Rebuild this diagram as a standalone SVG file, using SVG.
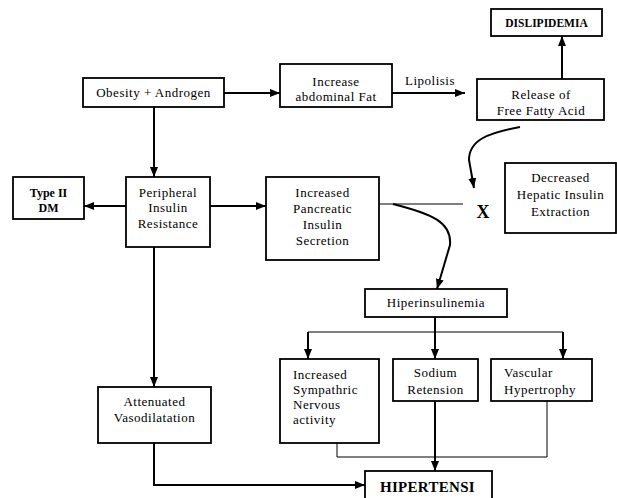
<svg xmlns="http://www.w3.org/2000/svg" width="617" height="498" viewBox="0 0 617 498">
<defs>
<marker id="ah" markerUnits="userSpaceOnUse" markerWidth="10" markerHeight="8" refX="10" refY="4" orient="auto">
<path d="M0,0 L10,4 L0,8 z" fill="#000"/>
</marker>
<style>
rect{fill:#fff;stroke:#000;stroke-width:1.8}
text{font-family:"Liberation Serif","Times New Roman",serif;font-size:13px;letter-spacing:0.5px;fill:#000}
.c{text-anchor:middle}
.b{font-weight:bold;letter-spacing:0}
.ln{fill:none;stroke:#000;stroke-width:2}
.th{fill:none;stroke:#000;stroke-width:1}
.ar{marker-end:url(#ah)}
</style>
</defs>
<rect width="617" height="498" style="fill:#fff;stroke:none"/>
<g id="connectors">
<path class="ln ar" d="M224,93 H280"/>
<path class="ln ar" d="M392,93 H465"/>
<path class="ln ar" d="M562,79 V36"/>
<path class="ln ar" d="M520,127 C488,133 469,140 469,160 L474,188"/>
<path class="ln ar" d="M154,107 V177"/>
<path class="ln ar" d="M126,206 H84"/>
<path class="ln ar" d="M210,206 H266"/>
<path class="th" d="M379,204 H463"/>
<path class="ln ar" d="M393,204 C432,214 452,222 450,245 L437,289"/>
<path class="ln ar" d="M154,247 V387"/>
<path class="ln ar" d="M154,443 V485 H365"/>
<path class="ln ar" d="M435,317 V359"/>
<path class="th" d="M308,332 H563"/>
<path class="ln ar" d="M308,332 V359"/>
<path class="ln ar" d="M563,332 V359"/>
<path class="ln ar" d="M435,401 V471"/>
<path class="th" d="M547,401 V457 H337 V443"/>
</g>
<g id="obesity"><rect x="83" y="78" width="141" height="29"/><text class="c" x="153.5" y="97">Obesity + Androgen</text></g>
<g id="abdominal"><rect x="280" y="64" width="112" height="43"/><text class="c" x="336" y="86">Increase</text><text class="c" x="336" y="101">abdominal Fat</text></g>
<g id="lipolisis-label"><text x="405" y="85">Lipolisis</text></g>
<g id="ffa"><rect x="477" y="79" width="127" height="41"/><text class="c" x="541" y="99">Release of</text><text class="c" x="541" y="115">Free Fatty Acid</text></g>
<g id="dislipidemia"><rect x="491" y="9" width="111" height="27"/><text class="c b" x="546.5" y="27" style="font-size:11.5px">DISLIPIDEMIA</text></g>
<g id="x-mark"><text class="c b" x="483" y="218" style="font-size:18px">X</text></g>
<g id="hepatic"><rect x="505" y="163" width="111" height="70"/><text class="c" x="560.5" y="182">Decreased</text><text class="c" x="560.5" y="199">Hepatic Insulin</text><text class="c" x="560.5" y="216">Extraction</text></g>
<g id="typeii"><rect x="13" y="177" width="71" height="42"/><text class="c b" x="48.5" y="197" style="font-size:12px">Type II</text><text class="c b" x="48.5" y="212" style="font-size:12px">DM</text></g>
<g id="peripheral"><rect x="126" y="177" width="84" height="70"/><text class="c" x="168" y="197">Peripheral</text><text class="c" x="168" y="212">Insulin</text><text class="c" x="168" y="228">Resistance</text></g>
<g id="pancreatic"><rect x="266" y="177" width="113" height="83"/><text class="c" x="322.5" y="197">Increased</text><text class="c" x="322.5" y="213">Pancreatic</text><text class="c" x="322.5" y="229">Insulin</text><text class="c" x="322.5" y="245">Secretion</text></g>
<g id="hiperinsulinemia"><rect x="365" y="289" width="142" height="28"/><text class="c" x="436" y="307">Hiperinsulinemia</text></g>
<g id="sympathic"><rect x="280" y="359" width="99" height="84"/><text x="293" y="379">Increased</text><text x="293" y="394">Sympathric</text><text x="293" y="409">Nervous</text><text x="293" y="424">activity</text></g>
<g id="sodium"><rect x="393" y="359" width="85" height="42"/><text class="c" x="435.5" y="377">Sodium</text><text class="c" x="435.5" y="394">Retension</text></g>
<g id="vascular"><rect x="491" y="359" width="101" height="42"/><text x="504" y="377">Vascular</text><text x="504" y="394">Hypertrophy</text></g>
<g id="attenuated"><rect x="98" y="387" width="113" height="56"/><text class="c" x="154.5" y="406">Attenuated</text><text class="c" x="154.5" y="422">Vasodilatation</text></g>
<g id="hipertensi"><rect x="365" y="471" width="127" height="32"/><text class="b" x="380" y="492" style="font-size:15px;letter-spacing:0.3px">HIPERTENSI</text></g>
</svg>
